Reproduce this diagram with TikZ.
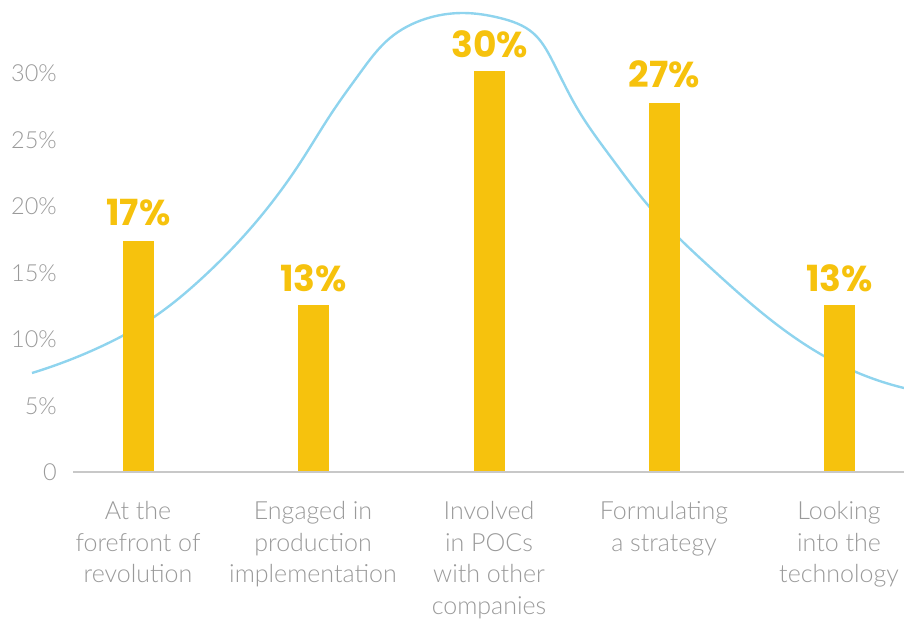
\documentclass[tikz,border=0pt]{standalone}
\usepackage{fontspec}
\usetikzlibrary{hobby}
\setmainfont{Lato}[UprightFont=* Light]
\newfontfamily\pctfont{Poppins}[UprightFont=* Bold]
\definecolor{barY}{HTML}{F6C20D}
\definecolor{curveB}{HTML}{8FD4EE}
\definecolor{axisG}{HTML}{C8C8C8}
\definecolor{txtG}{HTML}{9A9A9A}
\tikzset{
  bar/.style={fill=barY, draw=none},
  pct/.style={font=\pctfont\fontsize{36}{36}\selectfont, text=barY, inner sep=0pt, anchor=base},
  ytick/.style={font=\fontsize{23.5}{23.5}\selectfont, text=txtG, inner sep=0pt, anchor=east},
  cat/.style={font=\fontsize{25}{31.7}\selectfont, text=txtG, align=center, inner sep=0pt, anchor=north},
  curve/.style={draw=curveB, line width=2.4pt},
  axis/.style={draw=axisG, line width=1.8pt}
}
\begin{document}
\begin{tikzpicture}[x=1pt,y=-1pt]
\useasboundingbox (0,0) rectangle (904,620);
% curve
\draw[curve, use Hobby shortcut] (32,373) .. (100,347) .. (154,317) .. (200,280) .. (250,229) .. (300,163) .. (333,111) .. (360,73) .. (390,38) .. (425,19) .. (463,13) .. (500,18) .. (533,33) .. (552,60) .. (577,108) .. (613,160) .. (647,204) .. (713,270) .. (780,327) .. (847,368) .. (904,388);
% bars
\fill[bar] (123,241) rectangle (154,472) coordinate (b1);
\fill[bar] (298,305) rectangle (329,472) coordinate (b2);
\fill[bar] (474,71) rectangle (505,472) coordinate (b3);
\fill[bar] (649,103) rectangle (680,472) coordinate (b4);
\fill[bar] (824,305) rectangle (855,472) coordinate (b5);
% axis
\draw[axis] (73,472) -- (904,472);
% y ticks
\node[ytick] (y0) at (57,472) {0};
\node[ytick] (y5) at (57,406) {5\%};
\node[ytick] (y10) at (57,339) {10\%};
\node[ytick] (y15) at (57,273) {15\%};
\node[ytick] (y20) at (57,206) {20\%};
\node[ytick] (y25) at (57,140) {25\%};
\node[ytick] (y30) at (57,73) {30\%};
% percentages
\node[pct] (p1) at (138.5,225.5) {17\%};
\node[pct] (p2) at (313.5,291.5) {13\%};
\node[pct] (p3) at (489.5,58) {30\%};
\node[pct] (p4) at (664.5,87.5) {27\%};
\node[pct] (p5) at (839.5,291.5) {13\%};
% categories
\node[cat] (c1) at (138,501) {At the\\forefront of\\revolution};
\node[cat] (c2) at (313,501) {Engaged in\\production\\implementation};
\node[cat] (c3) at (489,501) {Involved\\in POCs\\with other\\companies};
\node[cat] (c4) at (664,501) {Formulating\\a strategy};
\node[cat] (c5) at (839,501) {Looking\\into the\\technology};
\end{tikzpicture}
\end{document}
